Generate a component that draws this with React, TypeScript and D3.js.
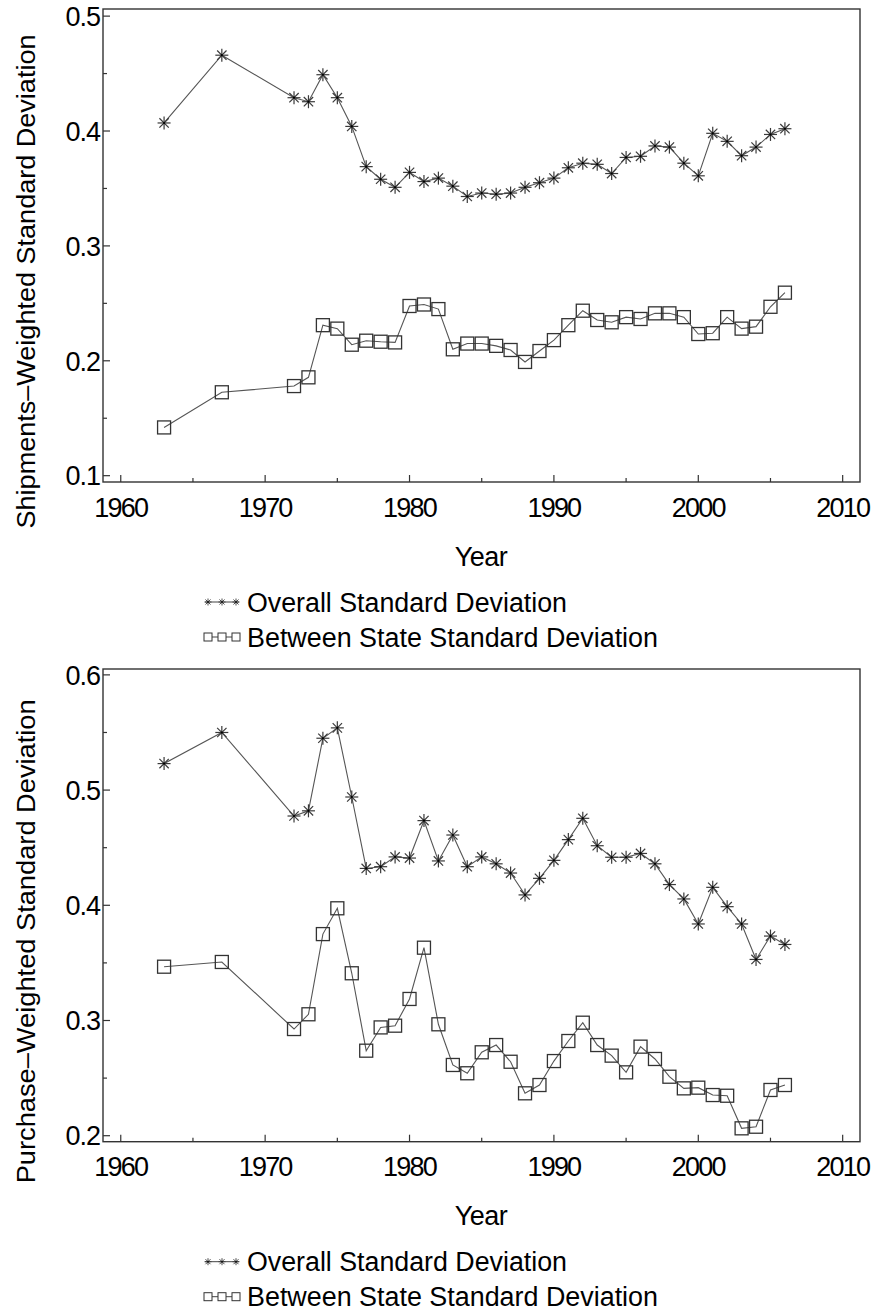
import React from "react";
import * as d3 from "d3";

const years = [1963, 1967, 1972, 1973, 1974, 1975, 1976, 1977, 1978, 1979, 1980, 1981, 1982, 1983, 1984, 1985, 1986, 1987, 1988, 1989, 1990, 1991, 1992, 1993, 1994, 1995, 1996, 1997, 1998, 1999, 2000, 2001, 2002, 2003, 2004, 2005, 2006];

const shipOverall = [0.407, 0.466, 0.429, 0.4255, 0.449, 0.429, 0.404, 0.369, 0.358, 0.351, 0.364, 0.356, 0.359, 0.352, 0.343, 0.346, 0.345, 0.346, 0.351, 0.355, 0.359, 0.368, 0.372, 0.371, 0.363, 0.377, 0.378, 0.387, 0.386, 0.372, 0.361, 0.398, 0.391, 0.3785, 0.386, 0.397, 0.402];
const shipBetween = [0.142, 0.1726, 0.178, 0.1856, 0.231, 0.228, 0.214, 0.2175, 0.2166, 0.216, 0.2477, 0.249, 0.245, 0.21, 0.215, 0.215, 0.213, 0.2094, 0.199, 0.2085, 0.218, 0.231, 0.2436, 0.2355, 0.2335, 0.238, 0.2364, 0.2413, 0.2413, 0.238, 0.2233, 0.224, 0.238, 0.228, 0.2297, 0.247, 0.2593];

const purchOverall = [0.523, 0.55, 0.4775, 0.482, 0.545, 0.554, 0.494, 0.432, 0.4335, 0.442, 0.441, 0.4735, 0.4385, 0.461, 0.4335, 0.442, 0.436, 0.428, 0.409, 0.4234, 0.439, 0.457, 0.4755, 0.4517, 0.4417, 0.4417, 0.445, 0.436, 0.418, 0.4055, 0.3838, 0.4156, 0.3988, 0.3838, 0.353, 0.3733, 0.366];
const purchBetween = [0.3467, 0.3508, 0.2926, 0.3054, 0.375, 0.3974, 0.341, 0.2738, 0.294, 0.2955, 0.3187, 0.3632, 0.2967, 0.2614, 0.2542, 0.2724, 0.2787, 0.2642, 0.2368, 0.244, 0.2648, 0.2822, 0.2981, 0.2787, 0.2695, 0.255, 0.2773, 0.2666, 0.2512, 0.2411, 0.2417, 0.2353, 0.2347, 0.2064, 0.2078, 0.2397, 0.244];

const xMajorTicks = [1960, 1970, 1980, 1990, 2000, 2010];
const xMinorTicks = [1965, 1975, 1985, 1995, 2005];
const shipYMajor = [0.1, 0.2, 0.3, 0.4, 0.5];
const shipYMinor = [0.15, 0.25, 0.35, 0.45];
const purchYMajor = [0.2, 0.3, 0.4, 0.5, 0.6];
const purchYMinor = [0.25, 0.35, 0.45, 0.55];

const legendLabels = ["Overall Standard Deviation", "Between State Standard Deviation"];

const FONT = "'Liberation Sans', Arial, Helvetica, sans-serif";

function Star({ x, y, r, sw }: { x: number; y: number; r: number; sw: number }) {
  const d = r * 0.72;
  return (
    <g stroke="#3a3a3a" strokeWidth={sw}>
      <line x1={x - r} y1={y} x2={x + r} y2={y} />
      <line x1={x} y1={y - r} x2={x} y2={y + r} />
      <line x1={x - d} y1={y - d} x2={x + d} y2={y + d} />
      <line x1={x - d} y1={y + d} x2={x + d} y2={y - d} />
      <circle cx={x} cy={y} r={sw * 0.9} fill="#000" stroke="none" />
    </g>
  );
}

function Panel(props: {
  top: number;
  bottom: number;
  yDomain: [number, number];
  yMajor: number[];
  yMinor: number[];
  overall: number[];
  between: number[];
  label: string;
  labelLen: number;
}) {
  const { top, bottom, yDomain, yMajor, yMinor, overall, between, label, labelLen } = props;
  const left = 103;
  const right = 860;
  const x = d3.scaleLinear().domain([1958.77, 2011.2]).range([left, right]);
  const y = d3.scaleLinear().domain(yDomain).range([bottom, top]);
  const line = d3
    .line<number>()
    .x((_, i) => x(years[i]))
    .y((v) => y(v));
  const fmt = d3.format(".1f");
  const labelCy = (top + bottom) / 2 + 36;
  const legY1 = bottom + 120;
  const legY2 = bottom + 155;
  const legX0 = 205;
  const legX1 = 239;
  const legPts = [legX0 + 3, (legX0 + legX1) / 2, legX1 - 3];
  return (
    <g fontFamily={FONT} fill="#000">
      <rect x={left} y={top} width={right - left} height={bottom - top} fill="none" stroke="#333" strokeWidth={1.4} />
      {yMajor.map((t) => (
        <g key={"ym" + t}>
          <line x1={left} x2={left + 7} y1={y(t)} y2={y(t)} stroke="#333" strokeWidth={1.2} />
          <text x={100} y={y(t)} dy="0.36em" textAnchor="end" fontSize={27} letterSpacing={-1}>
            {fmt(t)}
          </text>
        </g>
      ))}
      {yMinor.map((t) => (
        <line key={"yn" + t} x1={left} x2={left + 4} y1={y(t)} y2={y(t)} stroke="#333" strokeWidth={1.2} />
      ))}
      {xMajorTicks.map((t) => (
        <g key={"xm" + t}>
          <line x1={x(t)} x2={x(t)} y1={bottom} y2={bottom - 7} stroke="#333" strokeWidth={1.2} />
          <text x={x(t)} y={bottom + 25} dy="0.36em" textAnchor="middle" fontSize={27} letterSpacing={-1.8}>
            {t}
          </text>
        </g>
      ))}
      {xMinorTicks.map((t) => (
        <line key={"xn" + t} x1={x(t)} x2={x(t)} y1={bottom} y2={bottom - 4} stroke="#333" strokeWidth={1.2} />
      ))}
      <text x={481} y={bottom + 74} dy="0.36em" textAnchor="middle" fontSize={27} letterSpacing={-0.5}>
        Year
      </text>
      <text
        transform={`translate(26,${labelCy}) rotate(-90)`}
        dy="0.36em"
        textAnchor="middle"
        fontSize={26}
        textLength={labelLen}
        lengthAdjust="spacingAndGlyphs"
      >
        {label}
      </text>
      <path d={line(overall) || ""} fill="none" stroke="#555" strokeWidth={1.1} />
      <path d={line(between) || ""} fill="none" stroke="#555" strokeWidth={1.1} />
      {overall.map((v, i) => (
        <Star key={"s" + i} x={x(years[i])} y={y(v)} r={6.5} sw={1.2} />
      ))}
      {between.map((v, i) => (
        <rect key={"b" + i} x={x(years[i]) - 6.5} y={y(v) - 6.5} width={13} height={13} fill="none" stroke="#333" strokeWidth={1.3} />
      ))}
      {/* legend */}
      <line x1={legX0} x2={legX1} y1={legY1} y2={legY1} stroke="#444" strokeWidth={1} />
      {legPts.map((p, i) => (
        <Star key={"ls" + i} x={p} y={legY1} r={3.5} sw={0.9} />
      ))}
      <text x={247} y={legY1} dy="0.36em" fontSize={27} textLength={320} lengthAdjust="spacingAndGlyphs">
        {legendLabels[0]}
      </text>
      <line x1={legX0} x2={legX1} y1={legY2} y2={legY2} stroke="#444" strokeWidth={1} />
      {legPts.map((p, i) => (
        <rect key={"lb" + i} x={p - 4} y={legY2 - 4} width={8} height={8} fill="#fff" stroke="#333" strokeWidth={1} />
      ))}
      <text x={247} y={legY2} dy="0.36em" fontSize={27} textLength={411} lengthAdjust="spacingAndGlyphs">
        {legendLabels[1]}
      </text>
    </g>
  );
}

export default function App() {
  return (
    <svg width={876} height={1313} style={{ position: "absolute", left: 0, top: 0, background: "#fff" }}>
      <rect x={0} y={0} width={876} height={1313} fill="#fff" />
      <Panel
        top={9}
        bottom={482}
        yDomain={[0.0945, 0.5062]}
        yMajor={shipYMajor}
        yMinor={shipYMinor}
        overall={shipOverall}
        between={shipBetween}
        label="Shipments–Weighted Standard Deviation"
        labelLen={494}
      />
      <Panel
        top={669}
        bottom={1141.7}
        yDomain={[0.1948, 0.6051]}
        yMajor={purchYMajor}
        yMinor={purchYMinor}
        overall={purchOverall}
        between={purchBetween}
        label="Purchase–Weighted Standard Deviation"
        labelLen={484}
      />
    </svg>
  );
}
